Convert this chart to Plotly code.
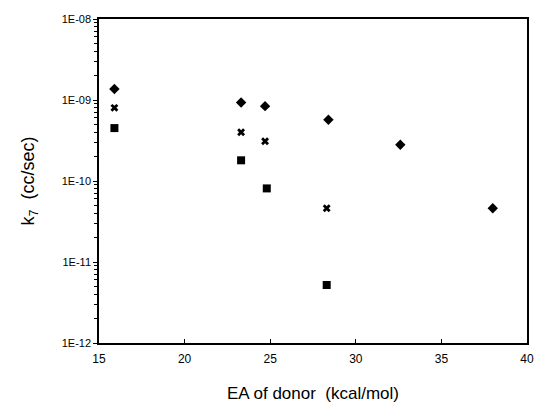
import plotly.graph_objects as go
import numpy as np

# data
ea_a = [15.9, 23.3, 24.7, 28.4, 32.6, 38.0]
k_a = [1.37e-9, 9.3e-10, 8.4e-10, 5.7e-10, 2.8e-10, 4.6e-11]
ea_b = [15.9, 23.3, 24.7, 28.3]
k_b = [8.0e-10, 4.0e-10, 3.1e-10, 4.6e-11]
ea_c = [15.9, 23.3, 24.8, 28.3]
k_c = [4.5e-10, 1.8e-10, 8.1e-11, 5.2e-12]

y_tickvals = [1e-12, 1e-11, 1e-10, 1e-9, 1e-8]
y_ticktext = ["1E-12", "1E-11", "1E-10", "1E-09", "1E-08"]
x_tickvals = [15, 20, 25, 30, 35, 40]

minor_vals = [m * 10.0 ** e for e in range(-12, -8) for m in range(2, 10)]

fig = go.Figure()
fig.add_trace(go.Scatter(x=ea_a, y=k_a, mode="markers",
                         marker=dict(symbol="diamond", size=8, color="black")))
fig.add_trace(go.Scatter(x=ea_b, y=k_b, mode="markers",
                         marker=dict(symbol="x", size=7, color="black")))
fig.add_trace(go.Scatter(x=ea_c, y=k_c, mode="markers",
                         marker=dict(symbol="square", size=8, color="black")))

fig.update_layout(
    width=539, height=409,
    margin=dict(l=99, r=5, t=19, b=66),
    paper_bgcolor="white", plot_bgcolor="white",
    showlegend=False,
    font=dict(family="Liberation Sans, Arial", color="black"),
    xaxis=dict(range=[15, 40], tickmode="array", tickvals=x_tickvals,
               ticks="inside", ticklen=4, tickcolor="black",
               showline=True, linecolor="black", linewidth=1.5, mirror=True,
               showgrid=False, zeroline=False,
               ticklabelstandoff=4,
               tickfont=dict(size=12),
               title=dict(text="EA of donor  (kcal/mol)", font=dict(size=17), standoff=22)),
    yaxis=dict(type="log", range=[-12, -8], tickmode="array",
               tickvals=y_tickvals, ticktext=y_ticktext,
               ticks="outside", ticklen=4, tickcolor="black",
               minor=dict(tickmode="array", tickvals=minor_vals, ticks="outside",
                          ticklen=3, tickcolor="black", showgrid=False),
               showline=True, linecolor="black", linewidth=1.5, mirror=True,
               showgrid=False, zeroline=False,
               tickfont=dict(size=11),
               title=dict(text="k<sub>7</sub>  (cc/sec)", font=dict(size=18), standoff=22)),
)

fig.write_html("out.html")
